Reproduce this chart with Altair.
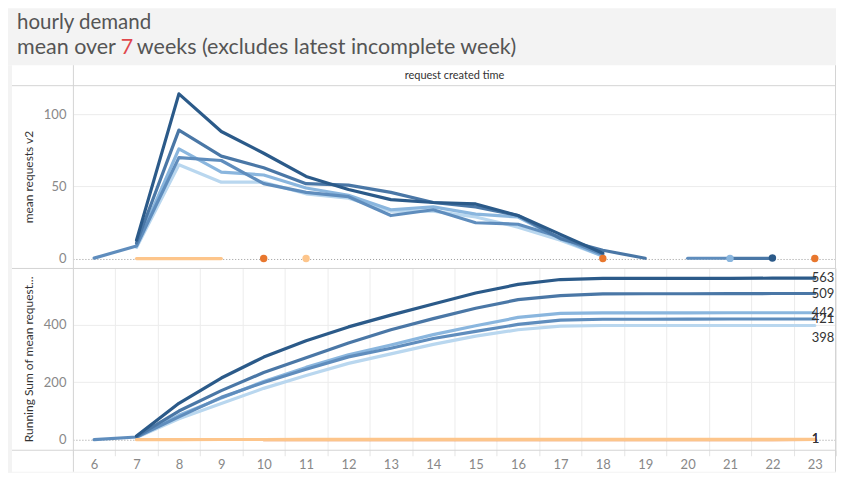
import altair as alt
import pandas as pd
from collections import Counter

FONT = "Lato"

# ---------------- data ----------------
hours = list(range(6, 24))

# mean requests per hour of day (None = no requests in that hour)
#            6    7    8    9   10  11  12  13  14  15  16  17  18   19    20    21    22    23
monday  = [None, 13, 114, 88, 73, 57, 48, 41, 39, 38, 30, 17, 4, None, None, None, 0.7, None]
tuesday = [None, 11,  89, 71, 63, 52, 51, 46, 39, 36, 30, 14, 6, 0.5, None, 0.4, 0.4, None]
wednesday = [0.6, 9,  70, 68, 52, 46, 43, 30, 34, 25, 24, 15, 3, None, 0.5, 0.5, None, None]
thursday = [None, 9,  76, 60, 58, 49, 44, 34, 36, 31, 29, 14, 2, None, None, 0.4, None, None]
friday  = [None,  8,  65, 53, 53, 45, 42, 33, 33, 29, 22, 13, 2, None, None, None, None, None]
saturday = [None, 0.3, 0.3, 0.3, None, 0.3, None, None, None, None, None, None, None, None, None, None, None, None]
sunday  = [None, None, None, None, 0.3, None, None, None, None, None, None, None, 0.3, None, None, None, None, 0.3]

# drawing order (light first, dark on top, weekend last)
series_names = ["Friday", "Thursday", "Wednesday", "Tuesday", "Monday", "Sunday", "Saturday"]
series_values = [friday, thursday, wednesday, tuesday, monday, sunday, saturday]
series_colors = ["#b9d7ef", "#8ab6de", "#5f8dbd", "#4a77a6", "#2b5a89", "#e8772e", "#fdc58b"]

top_ticks = [0, 50, 100]
bottom_ticks = [0, 200, 400]

TITLE = "hourly demand"
SUB_A = "mean over "
SUB_N = "7"
SUB_B = "weeks (excludes latest incomplete week)"
HEADER = "request created time"
Y_TITLE_TOP = "mean requests v2"
Y_TITLE_BOTTOM = "Running Sum of mean request..."

# ---------------- tables ----------------
top_rows, bot_rows = [], []
for name, vals in zip(series_names, series_values):
    seg, prev, segs = 0, False, []
    for h, v in zip(hours, vals):
        if v is None:
            prev = False
            continue
        if not prev:
            seg += 1
        segs.append((h, v, seg))
        prev = True
    counts = Counter(s for _, _, s in segs)
    for h, v, s in segs:
        top_rows.append(dict(name=name, hour=h, value=v, seg=f"{name}-{s}", single=counts[s] == 1))
    first = next(i for i, v in enumerate(vals) if v is not None)
    total = 0.0
    for h, v in zip(hours[first:], vals[first:]):
        total += v or 0
        bot_rows.append(dict(name=name, hour=h, cum=total))

df_top = pd.DataFrame(top_rows)
df_bot = pd.DataFrame(bot_rows)
df_lab = df_bot[df_bot.hour == hours[-1]].copy()
df_lab["label"] = df_lab["cum"].round().astype(int).astype(str)
one = pd.DataFrame({"k": [0]})

# ---------------- geometry ----------------
W, H = 764, 364
TOP_H = 182
BOT_Y0 = 183
GRAY = "#f3f3f3"
BORDER = "#d4d4d4"

color_enc = alt.Color("name:N", scale=alt.Scale(domain=series_names, range=series_colors), legend=None)

x_axis = alt.Axis(title=None, labelAngle=0, labelColor="#888888", labelFont=FONT, labelFontSize=13,
                  labelPadding=3, tickBand="extent", grid=True, gridColor="#ececec",
                  domain=False, ticks=True, tickColor="#e4e4e4", tickSize=6)
x_enc = alt.X("hour:O", bandPosition=0.5,
              scale=alt.Scale(type="band", domain=hours, paddingInner=0, paddingOuter=0),
              axis=x_axis)

grid_color = {"condition": {"test": "datum.value === 0", "value": "#9a9a9a"}, "value": "#ececec"}
grid_dash = {"condition": {"test": "datum.value === 0", "value": [1, 2]}, "value": []}


def y_axis(vals):
    return alt.Axis(values=vals, title=None, orient="left", domain=False, ticks=False,
                    labelColor="#888888", labelFont=FONT, labelFontSize=13, labelPadding=7,
                    grid=True, gridColor=grid_color, gridDash=grid_dash)


y_top = alt.Y("value:Q", scale=alt.Scale(domain=[-6.2, 119.3], range=[TOP_H, 0], nice=False, zero=False),
              axis=y_axis(top_ticks))
y_bot = alt.Y("cum:Q", scale=alt.Scale(domain=[-34.8, 594.8], range=[H, BOT_Y0], nice=False, zero=False),
              axis=y_axis(bottom_ticks))

top_lines = alt.Chart(df_top).mark_line(strokeWidth=3.2, strokeJoin="round", strokeCap="round").encode(
    x=x_enc, y=y_top, color=color_enc, detail="seg:N")
top_pts = alt.Chart(df_top).transform_filter("datum.single").mark_circle(size=55, opacity=1).encode(
    x=x_enc, y=y_top, color=color_enc)
top_layer = alt.layer(top_lines, top_pts)

bot_lines = alt.Chart(df_bot).mark_line(strokeWidth=3.2, strokeJoin="round", strokeCap="round").encode(
    x=x_enc, y=y_bot, color=color_enc, detail="name:N")
lab_main = alt.Chart(df_lab).transform_filter("datum.name != 'Friday'").mark_text(
    align="left", baseline="middle", dx=-3, font=FONT, fontSize=13, color="#333333").encode(
    x=x_enc, y=y_bot, text="label:N")
lab_low = alt.Chart(df_lab).transform_filter("datum.name == 'Friday'").mark_text(
    align="left", baseline="middle", dx=-3, dy=13, font=FONT, fontSize=13, color="#333333").encode(
    x=x_enc, y=y_bot, text="label:N")
bot_layer = alt.layer(bot_lines, lab_main, lab_low)

# ---------------- decoration ----------------
def rect(x, x2, y, y2, color):
    return alt.Chart(one).mark_rect(color=color).encode(
        x=alt.value(x), x2=alt.value(x2), y=alt.value(y), y2=alt.value(y2))


def hline(y, x=-61, x2=W):
    return alt.Chart(one).mark_rule(color=BORDER, strokeWidth=1).encode(
        x=alt.value(x), x2=alt.value(x2), y=alt.value(y))


def vline(x, y=-21, y2=386):
    return alt.Chart(one).mark_rule(color=BORDER, strokeWidth=1).encode(
        x=alt.value(x), y=alt.value(y), y2=alt.value(y2))


def text(s, x, y, size, color, align="left", angle=0, baseline="alphabetic"):
    return alt.Chart(one).mark_text(align=align, baseline=baseline, font=FONT, fontSize=size,
                                    color=color, angle=angle).encode(
        x=alt.value(x), y=alt.value(y), text=alt.value(s))


decor = [
    rect(-65, W, -78, -21, GRAY),
    rect(-65, -61, -21, 387, GRAY),
    rect(-65, W, 386, 387, GRAY),
    hline(-0.5), hline(182.5), hline(364.5),
    vline(0.5), vline(W - 0.5),
    text(TITLE, -56, -57.5, 20.5, "#555555"),
    text(SUB_A, -56, -32, 21.5, "#555555"),
    text(SUB_N, 48, -32, 21.5, "#e0474c"),
    text(SUB_B, 64, -32, 21.5, "#555555"),
    text(HEADER, W / 2, -10.5, 11, "#333333", align="center", baseline="middle"),
    text(Y_TITLE_TOP, -44, TOP_H / 2, 12, "#333333", align="center", angle=270, baseline="middle"),
    text(Y_TITLE_BOTTOM, -44, (BOT_Y0 + H) / 2, 12, "#333333", align="center", angle=270, baseline="middle"),
]

chart = alt.layer(*decor, top_layer, bot_layer).resolve_scale(y="independent").properties(
    width=W, height=H, padding=0, background="white"
).configure_view(stroke=None)

chart.save("out.html", embed_options={"renderer": "svg", "actions": False})
